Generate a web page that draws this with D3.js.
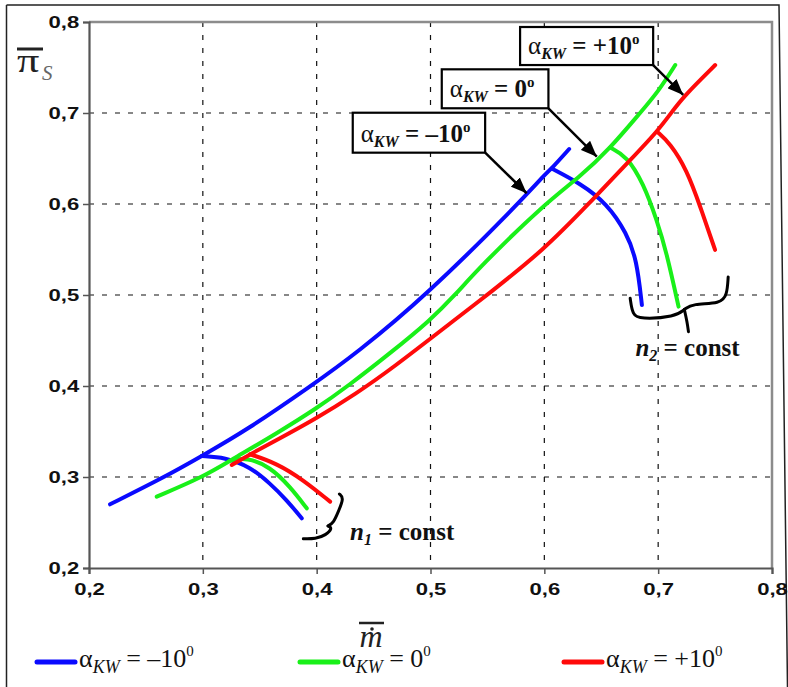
<!DOCTYPE html>
<html><head><meta charset="utf-8">
<script src="https://cdn.jsdelivr.net/npm/d3@7/dist/d3.min.js"></script>
<style>body{margin:0;background:#fff}svg{display:block}</style>
</head><body>
<script>
// ---------- DATA ----------
const xTicks = [0.2,0.3,0.4,0.5,0.6,0.7,0.8];
const yTicks = [0.2,0.3,0.4,0.5,0.6,0.7,0.8];
const xTickLabels = ["0,2","0,3","0,4","0,5","0,6","0,7","0,8"];
const yTickLabels = ["0,2","0,3","0,4","0,5","0,6","0,7","0,8"];
const seriesNames = ["α_KW = –10°","α_KW = 0°","α_KW = +10°"];
const seriesSign = ["–10","0","+10"];

// alpha = -10 deg (blue)
const blueMain = [[0.2185,0.270],[0.2665,0.300],[0.299,0.323],[0.3386,0.3516],[0.395,0.400],[0.435,0.436],[0.4967,0.500],[0.577,0.600],[0.600,0.632],[0.6065,0.639],[0.6218,0.6604]];
const blueN2 = [[0.6065,0.639],[0.6315,0.6227],[0.655,0.6007],[0.6725,0.5678],[0.6812,0.5385],[0.6857,0.489]];
const blueN1 = [[0.299,0.323],[0.3195,0.3216],[0.3415,0.3113],[0.359,0.293],[0.3737,0.2747],[0.3869,0.2546]];
// alpha = 0 deg (green)
const greenMain = [[0.2595,0.2784],[0.300,0.300],[0.3239,0.318],[0.365,0.348],[0.400,0.3755],[0.4276,0.400],[0.4645,0.436],[0.500,0.4725],[0.5216,0.500],[0.5436,0.5311],[0.600,0.600],[0.6315,0.630],[0.6578,0.6612],[0.684,0.700],[0.700,0.7234],[0.715,0.7527]];
const greenN2 = [[0.6578,0.662],[0.6725,0.6524],[0.687,0.6227],[0.6988,0.5824],[0.7076,0.5458],[0.7179,0.4872]];
const greenN1 = [[0.3239,0.318],[0.3386,0.3215],[0.359,0.3113],[0.3766,0.2894],[0.3913,0.2656]];
// alpha = +10 deg (red)
const redMain = [[0.3254,0.3132],[0.3415,0.325],[0.365,0.3407],[0.400,0.3645],[0.435,0.392],[0.4645,0.4176],[0.523,0.4744],[0.5497,0.500],[0.600,0.550],[0.6388,0.600],[0.6783,0.652],[0.699,0.6795],[0.7114,0.700],[0.7222,0.718],[0.7501,0.7527]];
const redN2 = [[0.699,0.6795],[0.7105,0.6667],[0.7252,0.6374],[0.737,0.5971],[0.750,0.5495]];
const redN1 = [[0.3415,0.325],[0.365,0.315],[0.3883,0.2967],[0.4118,0.2729]];

// ---------- LAYOUT ----------
const W = 788, H = 687;
const colors = ["#0a0aff","#19f019","#ff0a0a"];
const x = d3.scaleLinear().domain([0.2,0.8]).range([89,772]);
const y = d3.scaleLinear().domain([0.2,0.8]).range([568,22]);

const svg = d3.select("body").append("svg").attr("width",W).attr("height",H);

// outer frame
svg.append("path").attr("d","M6.5,5 H779 L787.5,687").attr("fill","none").attr("stroke","#222").attr("stroke-width",1.5);
svg.append("path").attr("d","M6.5,5 V687").attr("fill","none").attr("stroke","#222").attr("stroke-width",1.5);

// grid
const g = svg.append("g");
g.selectAll(".vg").data(xTicks.slice(1,-1)).join("line")
  .attr("x1",d=>x(d)).attr("x2",d=>x(d)).attr("y1",y(0.8)).attr("y2",y(0.2))
  .attr("stroke","#111").attr("stroke-width",1.2).attr("stroke-dasharray","5,8");
g.selectAll(".hg").data(yTicks.slice(1,-1)).join("line")
  .attr("y1",d=>y(d)).attr("y2",d=>y(d)).attr("x1",x(0.2)).attr("x2",x(0.8))
  .attr("stroke","#111").attr("stroke-width",1.2).attr("stroke-dasharray","5,8");

// top & right border (gray)
g.append("path").attr("d",`M${x(0.2)},${y(0.8)} H${x(0.8)} V${y(0.2)}`)
  .attr("fill","none").attr("stroke","#8c8c8c").attr("stroke-width",2.5);

// axes
const yAxis = d3.axisLeft(y).tickValues(yTicks).tickSize(6).tickFormat((d,i)=>yTickLabels[i]);
const xAxis = d3.axisBottom(x).tickValues(xTicks).tickSize(6).tickFormat((d,i)=>xTickLabels[i]);
const ya = svg.append("g").attr("transform",`translate(${x(0.2)},0)`).call(yAxis);
const xa = svg.append("g").attr("transform",`translate(0,${y(0.2)})`).call(xAxis);
[ya,xa].forEach(a=>{
  a.select(".domain").attr("stroke","#555").attr("stroke-width",2.2);
  a.selectAll(".tick line").attr("stroke","#555").attr("stroke-width",1.5);
  a.selectAll(".tick text").attr("font-family","Liberation Sans").attr("font-weight","bold")
    .attr("font-size",17).attr("fill","#111").attr("transform","scale(1.3,1)");
});
ya.selectAll(".tick text").attr("x",-7.5);
xa.selectAll(".tick text").attr("y",15);

// curves
const line = d3.line().x(d=>x(d[0])).y(d=>y(d[1])).curve(d3.curveBasis);
const curves = [
  [blueMain,0],[blueN2,0],[blueN1,0],
  [greenMain,1],[greenN2,1],[greenN1,1],
  [redMain,2],[redN2,2],[redN1,2]
];
svg.append("g").selectAll("path").data(curves).join("path")
  .attr("d",d=>line(d[0])).attr("fill","none")
  .attr("stroke",d=>colors[d[1]]).attr("stroke-width",4).attr("stroke-linecap","round").attr("stroke-linejoin","round");

// ---------- ANNOTATIONS ----------
const defs = svg.append("defs");
defs.append("marker").attr("id","ah").attr("viewBox","0 0 16 13").attr("refX",16).attr("refY",6.5)
  .attr("markerWidth",16).attr("markerHeight",13).attr("markerUnits","userSpaceOnUse").attr("orient","auto")
  .append("path").attr("d","M0,0 L16,6.5 L0,13 Z").attr("fill","#000");

// boxes [x0,y0,x1,y1] in data units, arrow tip on the curve
const boxes = [
  {s:0, box:[0.4317,0.7003,0.548,0.6564], tip:[0.5845,0.6118]},
  {s:1, box:[0.5099,0.748,0.6036,0.7052], tip:[0.6461,0.652]},
  {s:2, box:[0.5787,0.7945,0.6956,0.7527], tip:[0.722,0.7198]}
];
const ann = svg.append("g");
boxes.forEach(b=>{
  const x0=x(b.box[0]), y0=y(b.box[1]), x1=x(b.box[2]), y1=y(b.box[3]);
  ann.append("line").attr("x1",x1).attr("y1",y1).attr("x2",x(b.tip[0])).attr("y2",y(b.tip[1]))
    .attr("stroke","#000").attr("stroke-width",2.5).attr("marker-end","url(#ah)");
  ann.append("rect").attr("x",x0).attr("y",y0).attr("width",x1-x0).attr("height",y1-y0)
    .attr("fill","#fff").attr("stroke","#000").attr("stroke-width",2.2);
  const t = ann.append("text").attr("x",x0+8).attr("y",y1-11)
    .attr("font-family","Liberation Serif").attr("font-size",25).attr("font-weight","bold").attr("fill","#111");
  t.append("tspan").attr("font-weight","normal").text("α");
  t.append("tspan").attr("font-size",16).attr("font-style","italic").attr("dy",5).text("KW");
  t.append("tspan").attr("dy",-5).text(" = "+seriesSign[b.s]);
  t.append("tspan").attr("font-size",15).attr("dy",-10).text("o");
});

// braces
const braceLine = d3.line().x(d=>x(d[0])).y(d=>y(d[1])).curve(d3.curveBasis);
const braceN2 = [
  [[0.6754,0.4964],[0.6775,0.478],[0.6840,0.4735],[0.7150,0.4760],[0.7230,0.4840]],
  [[0.7230,0.4840],[0.7255,0.4700],[0.7266,0.4597]],
  [[0.7230,0.4840],[0.7300,0.4905],[0.7550,0.4905],[0.7605,0.5000],[0.7615,0.5198]]
];
const braceN1 = [
  [[0.4200,0.2813],[0.4240,0.2770],[0.4190,0.2620],[0.4150,0.2500],[0.4100,0.2462]],
  [[0.4100,0.2462],[0.4140,0.2440],[0.4080,0.2360],[0.3990,0.2320],[0.3883,0.2322]]
];
[...braceN2,...braceN1].forEach(p=>{
  ann.append("path").attr("d",braceLine(p)).attr("fill","none").attr("stroke","#000")
    .attr("stroke-width",3).attr("stroke-linecap","round");
});
function constLabel(px,py,sub){
  const t = ann.append("text").attr("x",px).attr("y",py)
    .attr("font-family","Liberation Serif").attr("font-size",25).attr("font-weight","bold").attr("fill","#111");
  t.append("tspan").attr("font-style","italic").text("n");
  t.append("tspan").attr("font-style","italic").attr("font-size",16).attr("dy",5).text(sub);
  t.append("tspan").attr("dy",-5).text(" = const");
}
constLabel(x(0.4293), y(0.2305), "1");
constLabel(x(0.6800), y(0.4330), "2");

// axis titles
const yt = svg.append("g").attr("transform","translate(17,72)");
yt.append("text").attr("transform","scale(1.3,1)").attr("font-family","Liberation Serif").attr("font-size",34).attr("fill","#222").text("π");
yt.append("line").attr("x1",0).attr("x2",26).attr("y1",-23).attr("y2",-23).attr("stroke","#222").attr("stroke-width",3);
svg.append("text").attr("x",42).attr("y",80).attr("font-family","Liberation Serif").attr("font-style","italic")
  .attr("font-size",21).attr("fill","#666").text("S");

const xt = svg.append("g").attr("transform","translate(371,647)");
xt.append("text").attr("text-anchor","middle").attr("font-family","Liberation Serif").attr("font-style","italic")
  .attr("font-size",32).attr("fill","#222").text("m");
xt.append("circle").attr("cx",1).attr("cy",-18).attr("r",1.8).attr("fill","#222");
xt.append("line").attr("x1",-12).attr("x2",13).attr("y1",-24).attr("y2",-24).attr("stroke","#222").attr("stroke-width",2.5);

// legend
const legX = [37,300,564];
const leg = svg.append("g");
seriesNames.forEach((n,i)=>{
  leg.append("line").attr("x1",legX[i]).attr("x2",legX[i]+38).attr("y1",662).attr("y2",662)
    .attr("stroke",colors[i]).attr("stroke-width",5).attr("stroke-linecap","round");
  const t = leg.append("text").attr("x",legX[i]+42).attr("y",667)
    .attr("font-family","Liberation Serif").attr("font-size",26).attr("fill","#111");
  t.append("tspan").text("α");
  t.append("tspan").attr("font-size",18).attr("font-style","italic").attr("dy",6).text("KW");
  t.append("tspan").attr("dy",-6).text(" = "+seriesSign[i]);
  t.append("tspan").attr("font-size",15).attr("dy",-11).text("0");
});
</script>
</body></html>
